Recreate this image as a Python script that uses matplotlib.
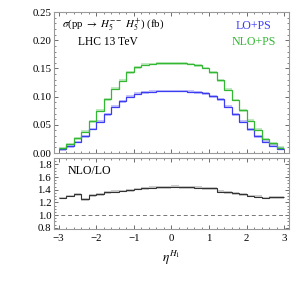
import numpy as np
import matplotlib
matplotlib.use("Agg")
import matplotlib.pyplot as plt
from matplotlib.ticker import MultipleLocator, FixedLocator

plt.rcParams['font.family'] = ['Liberation Serif', 'DejaVu Serif']
plt.rcParams['mathtext.fontset'] = 'stix'

# ---- data ----
bin_edges = [-3.0, -2.8, -2.6, -2.4, -2.2, -2.0, -1.8, -1.6, -1.4, -1.2, -1.0,
             -0.8, -0.6, -0.4, -0.2, 0.0, 0.2, 0.4, 0.6, 0.8, 1.0,
             1.2, 1.4, 1.6, 1.8, 2.0, 2.2, 2.4, 2.6, 2.8, 3.0]
lo_ps = [0.0065, 0.012, 0.0195, 0.030, 0.0425, 0.0555, 0.069, 0.082, 0.092, 0.100,
         0.105, 0.108, 0.109, 0.110, 0.110, 0.110, 0.110, 0.109, 0.108, 0.106,
         0.101, 0.095, 0.082, 0.069, 0.0555, 0.042, 0.030, 0.020, 0.013, 0.0077]
nlo_ps = [0.0083, 0.016, 0.026, 0.038, 0.056, 0.075, 0.095, 0.114, 0.128, 0.143,
          0.152, 0.157, 0.158, 0.159, 0.159, 0.159, 0.159, 0.158, 0.156, 0.151,
          0.143, 0.129, 0.112, 0.094, 0.076, 0.057, 0.041, 0.025, 0.017, 0.0095]
ratio = [1.27, 1.30, 1.33, 1.25, 1.31, 1.33, 1.36, 1.37, 1.38, 1.39,
         1.41, 1.42, 1.43, 1.44, 1.44, 1.45, 1.44, 1.44, 1.43, 1.42,
         1.42, 1.37, 1.36, 1.34, 1.33, 1.30, 1.29, 1.27, 1.28, 1.28]
lo_err = 0.0025
nlo_err = 0.0025
ratio_err = 0.022

upper_yticks = [0.00, 0.05, 0.10, 0.15, 0.20, 0.25]
lower_yticks = [0.8, 1.0, 1.2, 1.4, 1.6, 1.8]
xticks = [-3, -2, -1, 0, 1, 2, 3]

blue = '#3c3cf2'
green = '#33b833'
frame = '#9a9a9a'

fig = plt.figure(figsize=(3.0, 2.82), dpi=100)
ax1 = fig.add_axes([0.18, 0.4574, 0.783, 0.4996])
ax2 = fig.add_axes([0.18, 0.188, 0.783, 0.2517])

edges = np.array(bin_edges)

def step(ax, vals, err, color, lw=0.9, band_alpha=0.3):
    v = np.array(vals)
    vv = np.append(v, v[-1])
    ax.fill_between(edges, vv - err, vv + err, step='post', color=color,
                    alpha=band_alpha, lw=0)
    ax.stairs(v, edges, color=color, lw=lw, baseline=None)

step(ax1, lo_ps, lo_err, blue)
step(ax1, nlo_ps, nlo_err, green)
step(ax2, ratio, ratio_err, '#333333', lw=0.8, band_alpha=0.25)
ax2.axhline(1.0, color='#777777', lw=0.7, ls=(0, (4, 3)))

for ax in (ax1, ax2):
    ax.set_xlim(-3.12, 3.12)
    ax.xaxis.set_major_locator(FixedLocator(xticks))
    ax.xaxis.set_minor_locator(MultipleLocator(0.2))
    ax.tick_params(which='both', direction='in', top=True, right=True,
                   color='#555555', labelsize=7.8, pad=2)
    ax.tick_params(which='major', length=3, width=0.6)
    ax.tick_params(which='minor', length=1.5, width=0.5)
    for s in ax.spines.values():
        s.set_color(frame)
        s.set_linewidth(0.8)

ax1.set_ylim(0, 0.25)
ax1.yaxis.set_major_locator(FixedLocator(upper_yticks))
ax1.yaxis.set_minor_locator(MultipleLocator(0.01))
ax1.set_yticklabels(['%.2f' % t for t in upper_yticks])
ax1.tick_params(labelbottom=False)

ax2.set_ylim(0.78, 1.9)
ax2.yaxis.set_major_locator(FixedLocator(lower_yticks))
ax2.yaxis.set_minor_locator(MultipleLocator(0.05))
ax2.set_yticklabels(['%.1f' % t for t in lower_yticks])
ax2.set_xticklabels(['\u22123', '\u22122', '\u22121', '0', '1', '2', '3'])
ax2.tick_params(axis='x', pad=3.5)
ax2.set_xlabel(r'$\eta^{H_1}$', fontsize=9.5, labelpad=4)

ax1.text(0.036, 0.905, r'$\sigma$(pp $\rightarrow$ $H_5^{--}$ $H_5^{+}$) (fb)',
         transform=ax1.transAxes, fontsize=7.8, ha='left', va='center')
ax1.text(0.23, 0.79, 'LHC 13 TeV', transform=ax1.transAxes, fontsize=8.3,
         ha='center', va='center')
ax1.text(0.85, 0.905, 'LO+PS', transform=ax1.transAxes, fontsize=8.6,
         ha='center', va='center', color=blue)
ax1.text(0.85, 0.79, 'NLO+PS', transform=ax1.transAxes, fontsize=8.6,
         ha='center', va='center', color=green)
ax2.text(0.06, 0.82, 'NLO/LO', transform=ax2.transAxes, fontsize=8.6,
         ha='left', va='center')

fig.savefig('out.png', dpi=100)
